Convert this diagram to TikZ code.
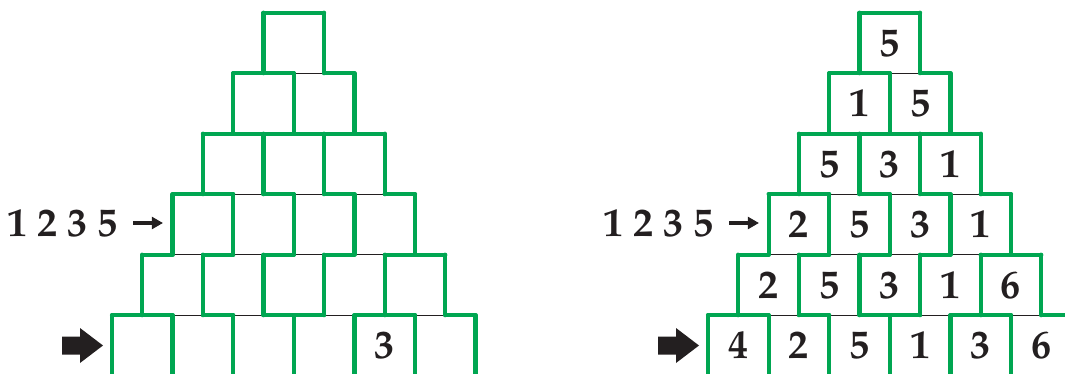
\documentclass[tikz,border=0pt]{standalone}
\usepackage[T1]{fontenc}
\usepackage{mathpazo}
\usetikzlibrary{arrows.meta}
\definecolor{WALL-GREEN}{RGB}{0, 166, 81}
\definecolor{INK}{RGB}{35, 31, 32}

\begin{document}
\begin{tikzpicture}[x=0.025cm, y=-0.025cm,
  wall/.style={WALL-GREEN, line width=3pt, line cap=round},
  seam/.style={INK, line width=0.8pt},
  digit/.style={font=\fontsize{28.5}{31}\selectfont\bfseries, text=INK, inner sep=0pt},
  pointer/.style={INK, line width=2.2pt, -{Triangle[length=8pt,width=8.5pt]}}]
  \useasboundingbox (0,0) rectangle (1065,374);
  \clip (0,0) rectangle (1065,374);
  \def\hw{30.3}
  \def\ch{60.5}

  % Both pyramids share the same walls
  \foreach \px in {112,708}{
    \begin{scope}[shift={(\px,12.7)}]
      % thin seams between rows
      \foreach \lv in {1,...,5}
        \draw[seam] ({(6-\lv)*\hw},{\lv*\ch}) -- ({(6+\lv)*\hw},{\lv*\ch});
      % green horizontal walls
      \foreach \lv/\a/\b in {0/5/7, 1/4/6, 1/7/8, 2/3/9,
          3/2/4, 3/5/6, 3/7/8, 3/9/10,
          4/1/2, 4/3/4, 4/5/6, 4/7/8, 4/9/11,
          5/0/2, 5/3/4, 5/5/7, 5/8/10, 5/11/12, 6/0/12}
        \draw[wall] ({\a*\hw},{\lv*\ch}) -- ({\b*\hw},{\lv*\ch});
      % green vertical walls
      \foreach \r in {1,...,6}
        \foreach \k in {0,...,\r}
          \draw[wall] ({(6-\r+2*\k)*\hw},{(\r-1)*\ch}) -- ++(0,\ch);
    \end{scope}
  }

  % Left pyramid: one given value
  \begin{scope}[shift={(112,12.7)}]
    \node[digit] (given) at ({9*\hw},{5.5*\ch}) {3};
  \end{scope}

  % Right pyramid: filled in
  \begin{scope}[shift={(708,12.7)}]
    \foreach \vals [count=\r] in {{5},{1,5},{5,3,1},{2,5,3,1},{2,5,3,1,6},{4,2,5,1,3,6}}
      \foreach \d [count=\k] in \vals
        \node[digit] (n\r-\k) at ({(6-\r+2*\k-1)*\hw},{(\r-0.5)*\ch}) {\d};
  \end{scope}

  % Sequence labels with small arrows
  \node[digit, anchor=east, inner xsep=10.6pt] (seqL) at (133,223) {1 2 3 5};
  \coordinate (seqLtip) at (163,223);
  \draw[pointer] (seqL.east) -- (seqLtip);

  \node[digit, anchor=east, inner xsep=10.6pt] (seqR) at (729,223) {1 2 3 5};
  \coordinate (seqRtip) at (759,223);
  \draw[pointer] (seqR.east) -- (seqRtip);

  % Block arrows at the bottom row
  \coordinate (bigL) at (103,345.5);
  \fill[INK] (bigL) -- ++(-23,-17.5) -- ++(0,8.5) -- ++(-18,0) -- ++(0,18)
    -- ++(18,0) -- ++(0,8.5) -- cycle;
  \coordinate (bigR) at (699,345.5);
  \fill[INK] (bigR) -- ++(-23,-17.5) -- ++(0,8.5) -- ++(-18,0) -- ++(0,18)
    -- ++(18,0) -- ++(0,8.5) -- cycle;
\end{tikzpicture}
\end{document}
